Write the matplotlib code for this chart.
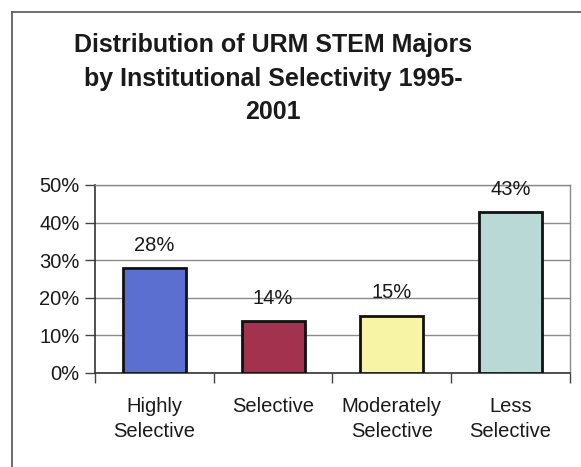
import matplotlib
matplotlib.use("Agg")
import matplotlib.pyplot as plt
from matplotlib.lines import Line2D
import numpy as np

plt.rcParams['font.family'] = ['Liberation Sans', 'DejaVu Sans']

# data
categories = ['Highly\nSelective', 'Selective', 'Moderately\nSelective', 'Less\nSelective']
shares = [27.8, 13.8, 15.2, 42.8]
labels = ['28%', '14%', '15%', '43%']
colors = ['#5b6fd0', '#a3324f', '#f7f4a6', '#b9d9d6']
yticks = [0, 10, 20, 30, 40, 50]

fig = plt.figure(figsize=(5.81, 4.67), dpi=100)
ax = fig.add_axes([0.1635, 0.2013, 0.8175, 0.4026])

x = np.arange(len(categories))
ax.bar(x, shares, width=0.53, color=colors, edgecolor='#111111', linewidth=2, zorder=3)
for xi, v, lab in zip(x, shares, labels):
    ax.text(xi, v + 3.6, lab, ha='center', va='bottom', fontsize=14.5, color='#1a1a1a', zorder=4)

ax.set_xlim(-0.5, len(categories) - 0.5)
ax.set_ylim(0, 50)
ax.set_yticks(yticks)
ax.set_yticklabels([f'{t}%' for t in yticks], fontsize=14.5, color='#1a1a1a')
ax.yaxis.grid(True, color='#8a8a8a', linewidth=1, zorder=0)
ax.set_axisbelow(True)

ax.set_xticks(np.arange(len(categories) + 1) - 0.5)
ax.set_xticklabels([])
ax.set_xticks(x, minor=True)
ax.set_xticklabels(categories, minor=True, fontsize=14.5, color='#1a1a1a', linespacing=1.45)
ax.tick_params(axis='x', which='minor', length=0, pad=17)
ax.tick_params(axis='x', which='major', length=7, width=1, color='#444444')
ax.tick_params(axis='y', length=7, width=1, color='#444444', pad=4)

for side in ['left', 'bottom']:
    ax.spines[side].set_color('#333333')
    ax.spines[side].set_linewidth(1.2)
for side in ['top', 'right']:
    ax.spines[side].set_color('#8a8a8a')
    ax.spines[side].set_linewidth(1)

fig.text(0.47, 0.93, 'Distribution of URM STEM Majors\nby Institutional Selectivity 1995-\n2001',
         ha='center', va='top', fontsize=18, fontweight='bold', color='#1a1a1a', linespacing=1.52)

# outer chart frame (left and top edges only visible)
fig.add_artist(Line2D([12 / 581, 12 / 581], [0, 1 - 12 / 467], transform=fig.transFigure,
                      color='#555555', linewidth=1.2))
fig.add_artist(Line2D([12 / 581, 1], [1 - 12 / 467, 1 - 12 / 467], transform=fig.transFigure,
                      color='#555555', linewidth=1.2))

fig.savefig('out.png', dpi=100)
